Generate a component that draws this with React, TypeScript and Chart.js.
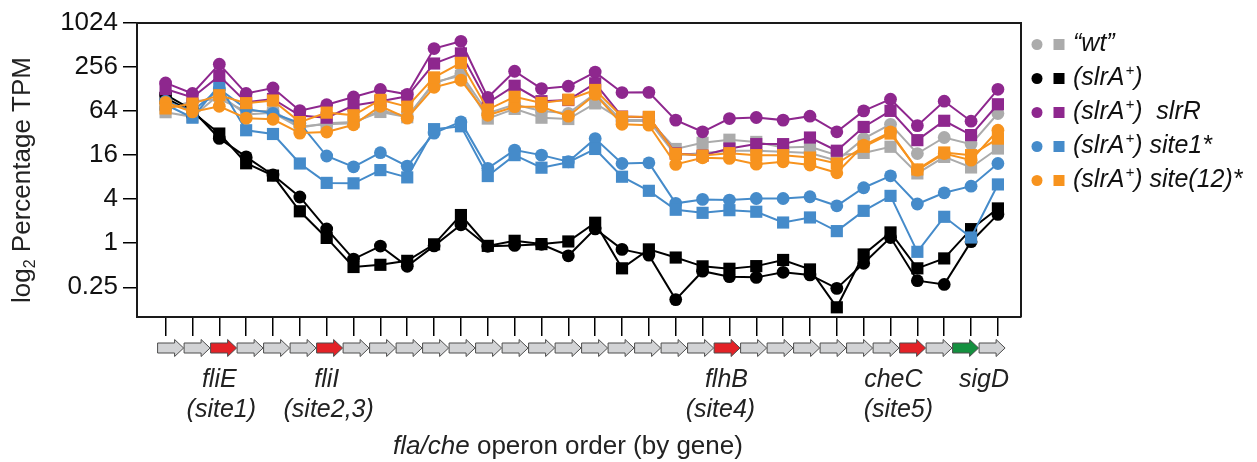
import React, { useEffect, useRef } from 'react';
import { Chart, registerables } from 'chart.js';
Chart.register(...registerables);

// gene index along the fla/che operon (0 = first gene)
const geneOrder = [0,1,2,3,4,5,6,7,8,9,10,11,12,13,14,15,16,17,18,19,20,21,22,23,24,25,26,27,28,29,30,31];
// arrow colour class per gene: g = grey, r = site gene (red), s = sigD (green)
const geneKind = ['g','g','r','g','g','g','r','g','g','g','g','g','g','g','g','g','g','g','g','g','g','r','g','g','g','g','g','g','r','g','s','g'];

// y tick values in log2 units and their labels
const yTickLog2 = [-2, 0, 2, 4, 6, 8, 10];
const yTickLabels = ['0.25', '1', '4', '16', '64', '256', '1024'];

// log2 Percentage TPM
const wtCircle = [6.1,6.45,6.55,6.0,6.0,5.3,5.4,5.45,6.04,5.75,7.25,7.7,5.9,6.3,6.0,5.9,6.8,5.55,5.55,4.0,4.1,4.2,4.2,4.15,4.1,3.75,4.75,5.4,4.07,4.8,4.5,5.89];
const wtSquare = [5.95,5.74,6.75,5.85,5.92,5.25,5.45,5.5,5.96,5.72,7.32,7.6,5.66,6.1,5.7,5.64,6.35,5.6,5.6,4.28,4.56,4.7,4.6,4.35,4.38,4.0,4.1,4.38,3.17,3.92,3.44,4.3];
const slrACircle = [6.75,6.05,4.76,3.92,3.1,2.1,0.65,-0.72,-0.13,-1.05,-0.12,0.84,-0.14,-0.1,-0.05,-0.57,0.65,-0.28,-0.54,-2.56,-1.27,-1.52,-1.55,-1.32,-1.44,-2.05,-0.91,0.26,-1.7,-1.87,0.07,1.31];
const slrASquare = [6.6,5.95,4.98,3.63,3.07,1.45,0.24,-1.08,-0.98,-0.8,-0.05,1.28,-0.12,0.11,-0.04,0.08,0.93,-1.14,-0.28,-0.65,-1.05,-1.16,-1.04,-0.76,-1.19,-2.91,-0.51,0.49,-1.14,-0.69,0.64,1.58];
const slrRCircle = [7.28,6.8,8.13,6.8,7.05,6.02,6.29,6.64,6.98,6.76,8.84,9.17,6.62,7.81,7.02,7.13,7.77,6.84,6.85,5.59,5.06,5.66,5.71,5.59,5.77,5.06,6.01,6.54,5.34,6.45,5.54,6.99];
const slrRSquare = [7.0,6.62,7.6,6.4,6.55,5.8,5.7,6.25,6.45,6.67,8.16,8.62,6.38,7.15,6.45,6.5,7.26,5.75,5.72,4.08,3.98,4.3,4.5,4.5,4.8,4.2,5.28,6.01,4.68,5.56,4.91,6.31];
const site1Circle = [6.45,6.0,7.0,6.1,5.9,5.45,3.96,3.47,4.11,3.5,5.0,5.51,3.4,4.23,4.0,3.7,4.75,3.62,3.65,1.81,1.99,1.96,2.03,2.03,2.11,1.7,2.52,3.06,1.78,2.29,2.59,3.62];
const site1Square = [6.3,5.7,7.17,5.13,4.96,3.62,2.74,2.72,3.32,2.99,5.18,5.31,3.05,4.0,3.43,3.68,4.28,3.02,2.38,1.52,1.38,1.5,1.43,0.94,1.17,0.55,1.47,2.15,-0.39,1.2,0.26,2.67];
const site12Circle = [6.4,5.96,6.22,5.68,5.63,5.0,5.05,5.38,6.22,5.68,7.08,7.4,5.81,6.2,6.2,5.77,6.76,5.4,5.36,3.58,3.88,3.85,3.59,3.7,3.55,3.2,4.45,5.05,3.32,4.07,3.77,5.13];
const site12Square = [6.12,6.34,6.72,6.36,6.48,5.5,5.93,5.81,6.51,6.2,7.53,8.19,6.07,6.65,6.37,6.52,6.96,5.74,5.74,4.06,3.98,4.09,4.0,4.0,3.89,3.62,4.38,4.98,3.35,4.12,4.0,4.75];

const GREY = '#ababab';
const BLACK = '#000000';
const PURPLE = '#8e278e';
const BLUE = '#458bca';
const ORANGE = '#f7931e';

const FONT = "'Liberation Sans', Arial, Helvetica, sans-serif";

const pts = (arr: number[]) => arr.map((v, i) => ({ x: geneOrder[i], y: v }));

const mk = (label: string, data: number[], color: string, square: boolean) => ({
  label,
  data: pts(data),
  borderColor: color,
  backgroundColor: color,
  pointBackgroundColor: color,
  pointBorderColor: color,
  pointBorderWidth: 0,
  borderWidth: 2,
  pointStyle: square ? 'rect' : 'circle',
  pointRadius: square ? 8.6 : 6.4,
  tension: 0,
});

const legendRows = [
  { color: GREY, parts: [{ t: '\u201Cwt\u201D' }] },
  { color: BLACK, parts: [{ t: '(slrA' }, { t: '+', sup: true }, { t: ')' }] },
  { color: PURPLE, parts: [{ t: '(slrA' }, { t: '+', sup: true }, { t: ')  slrR' }] },
  { color: BLUE, parts: [{ t: '(slrA' }, { t: '+', sup: true }, { t: ') site1*' }] },
  { color: ORANGE, parts: [{ t: '(slrA' }, { t: '+', sup: true }, { t: ') site(12)*' }] },
];

const geneLabels = [
  { gene: 2, name: 'fliE', dx: 0, site: '(site1)', sdx: 2 },
  { gene: 6, name: 'fliI', dx: 0, site: '(site2,3)', sdx: 2 },
  { gene: 21, name: 'flhB', dx: -3, site: '(site4)', sdx: -9 },
  { gene: 28, name: 'cheC', dx: -24, site: '(site5)', sdx: -19 },
  { gene: 30, name: 'sigD', dx: 13, site: '', sdx: 0 },
];

const decorPlugin = {
  id: 'decor',
  afterDraw(chart: any) {
    const ctx = chart.ctx as CanvasRenderingContext2D;
    const ca = chart.chartArea;
    const xs = chart.scales.x;
    ctx.save();
    // frame top & right
    ctx.strokeStyle = '#1a1a1a';
    ctx.lineWidth = 2;
    ctx.beginPath();
    ctx.moveTo(ca.left, ca.top);
    ctx.lineTo(ca.right, ca.top);
    ctx.lineTo(ca.right, ca.bottom);
    ctx.stroke();

    // gene arrows
    const cy = 348;
    const firstX = xs.getPixelForValue(geneOrder[0]) + 5;
    const step = 26.5;
    geneOrder.forEach((g, i) => {
      const cx = firstX + i * step;
      const l = cx - 13, r = cx + 13, neck = cx + 4;
      ctx.beginPath();
      ctx.moveTo(l, cy - 5);
      ctx.lineTo(neck, cy - 5);
      ctx.lineTo(neck, cy - 8.5);
      ctx.lineTo(r, cy);
      ctx.lineTo(neck, cy + 8.5);
      ctx.lineTo(neck, cy + 5);
      ctx.lineTo(l, cy + 5);
      ctx.closePath();
      const k = geneKind[i];
      ctx.fillStyle = k === 'r' ? '#e32227' : k === 's' ? '#14903f' : '#d2d3d5';
      ctx.fill();
      ctx.strokeStyle = '#4d4d4d';
      ctx.lineWidth = 1;
      ctx.stroke();
    });

    // gene labels
    ctx.fillStyle = '#222';
    ctx.textAlign = 'center';
    ctx.textBaseline = 'middle';
    ctx.font = `italic 25px ${FONT}`;
    geneLabels.forEach((gl) => {
      const x = xs.getPixelForValue(gl.gene);
      ctx.fillText(gl.name, x + gl.dx, 380);
      if (gl.site) ctx.fillText(gl.site, x + gl.sdx, 410);
    });

    // x axis title
    ctx.textAlign = 'left';
    const t1 = 'fla/che';
    const t2 = ' operon order (by gene)';
    ctx.font = `italic 26px ${FONT}`;
    const w1 = ctx.measureText(t1).width;
    ctx.font = `26px ${FONT}`;
    const w2 = ctx.measureText(t2).width;
    const x0 = 568 - (w1 + w2) / 2;
    ctx.font = `italic 26px ${FONT}`;
    ctx.fillText(t1, x0, 447);
    ctx.font = `26px ${FONT}`;
    ctx.fillText(t2, x0 + w1, 447);

    // y axis title (rotated)
    ctx.save();
    ctx.translate(23, 180);
    ctx.rotate(-Math.PI / 2);
    ctx.font = `26px ${FONT}`;
    const a = 'log';
    const c = ' Percentage TPM';
    const wa = ctx.measureText(a).width;
    ctx.font = `16px ${FONT}`;
    const wb = ctx.measureText('2').width;
    ctx.font = `26px ${FONT}`;
    const wc = ctx.measureText(c).width;
    const sx = -(wa + wb + wc) / 2;
    ctx.fillText(a, sx, 0);
    ctx.font = `16px ${FONT}`;
    ctx.fillText('2', sx + wa, 8);
    ctx.font = `26px ${FONT}`;
    ctx.fillText(c, sx + wa + wb, 0);
    ctx.restore();

    // legend
    const rowsY = [44.5, 78.5, 112.5, 146.5, 180.5];
    legendRows.forEach((row, i) => {
      const y = rowsY[i];
      ctx.fillStyle = row.color;
      ctx.beginPath();
      ctx.arc(1037, y, 5.5, 0, Math.PI * 2);
      ctx.fill();
      ctx.fillRect(1053.5, y - 5.5, 11, 11);
      ctx.fillStyle = '#111';
      ctx.textBaseline = 'middle';
      ctx.textAlign = 'left';
      let tx = 1073;
      row.parts.forEach((p: any) => {
        if (p.sup) {
          ctx.font = `italic 15px ${FONT}`;
          ctx.fillText(p.t, tx + 1, y - 8);
          tx += ctx.measureText(p.t).width + 1;
        } else {
          ctx.font = `italic 25px ${FONT}`;
          ctx.fillText(p.t, tx, y);
          tx += ctx.measureText(p.t).width;
        }
      });
    });
    ctx.restore();
  },
};

export default function App() {
  const ref = useRef<HTMLCanvasElement | null>(null);
  useEffect(() => {
    document.body.style.margin = '0';
    if (!ref.current) return;
    const chart = new Chart(ref.current, {
      type: 'line',
      data: {
        datasets: [
          mk('(slrA+) site(12)* square', site12Square, ORANGE, true),
          mk('(slrA+) site(12)* circle', site12Circle, ORANGE, false),
          mk('(slrA+) slrR square', slrRSquare, PURPLE, true),
          mk('(slrA+) slrR circle', slrRCircle, PURPLE, false),
          mk('(slrA+) site1* square', site1Square, BLUE, true),
          mk('(slrA+) site1* circle', site1Circle, BLUE, false),
          mk('(slrA+) square', slrASquare, BLACK, true),
          mk('(slrA+) circle', slrACircle, BLACK, false),
          mk('wt square', wtSquare, GREY, true),
          mk('wt circle', wtCircle, GREY, false),
        ] as any,
      },
      options: {
        animation: false,
        responsive: false,
        devicePixelRatio: 1,
        layout: { padding: { left: 0, right: 236, top: 23, bottom: 0 } },
        plugins: { legend: { display: false }, tooltip: { enabled: false } },
        scales: {
          x: {
            type: 'linear',
            min: -1.065,
            max: 31.86,
            afterBuildTicks: (s: any) => { s.ticks = geneOrder.map((v) => ({ value: v })); },
            ticks: { autoSkip: false, callback: () => '' },
            grid: { drawOnChartArea: false, tickLength: 19, color: '#000', lineWidth: 1.5 },
            border: { color: '#1a1a1a', width: 2 },
            afterFit: (s: any) => { s.height = 145; },
          },
          y: {
            type: 'linear',
            min: -3.35,
            max: 10,
            afterBuildTicks: (s: any) => { s.ticks = yTickLog2.map((v) => ({ value: v })); },
            ticks: {
              autoSkip: false,
              padding: 5,
              color: '#111',
              font: { family: FONT, size: 26 },
              callback: (v: any) => {
                const k = yTickLog2.indexOf(Number(v));
                return k >= 0 ? yTickLabels[k] : '';
              },
            },
            grid: { drawOnChartArea: false, tickLength: 14, color: '#000', lineWidth: 1.5 },
            border: { color: '#1a1a1a', width: 2 },
            afterFit: (s: any) => { s.width = 137; },
          },
        },
      } as any,
      plugins: [decorPlugin],
    });
    return () => chart.destroy();
  }, []);
  return (
    <div style={{ width: 1257, height: 462 }}>
      <canvas ref={ref} width={1257} height={462} style={{ display: 'block' }} />
    </div>
  );
}
